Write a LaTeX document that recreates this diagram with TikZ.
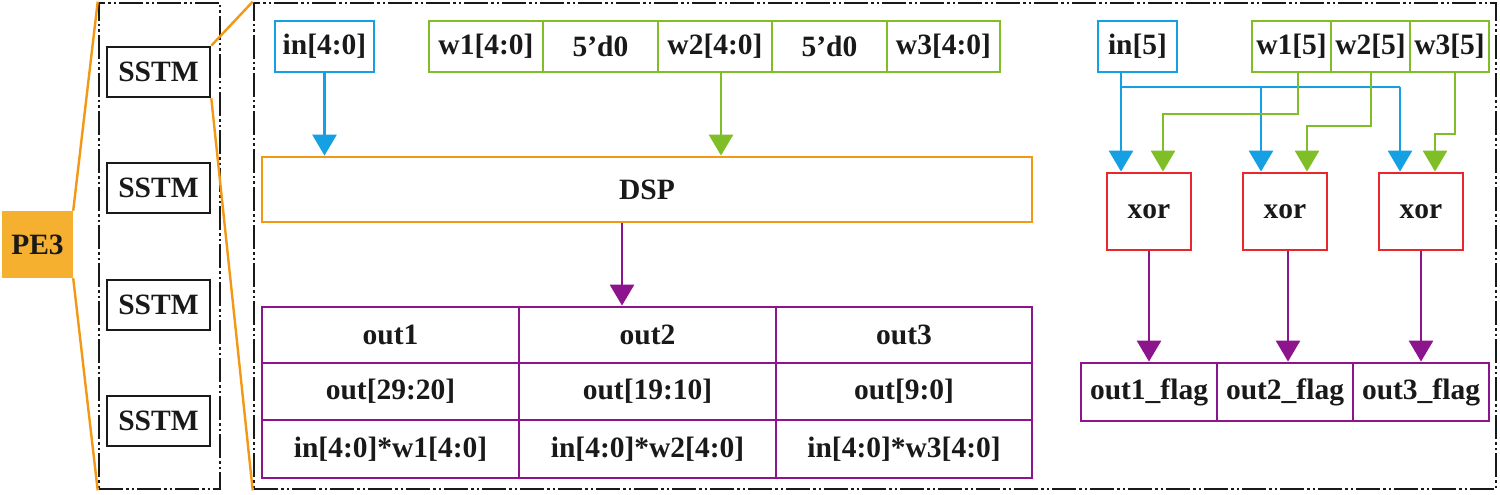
\documentclass[tikz,border=0pt]{standalone}
\usepackage{fontspec}
\setmainfont{Liberation Serif}
\usetikzlibrary{arrows.meta}
\definecolor{cblue}{RGB}{20,160,226}
\definecolor{cgreen}{RGB}{128,190,40}
\definecolor{corange}{RGB}{243,152,20}
\definecolor{cpe}{RGB}{245,176,47}
\definecolor{cred}{RGB}{232,38,43}
\definecolor{cpurple}{RGB}{140,20,140}
\tikzset{
  txt/.style={font=\fontsize{29.5}{32}\bfseries\selectfont, inner sep=0pt, text=black!90},
  cell/.style={txt, draw, line width=2.8pt, rectangle},
  ddbox/.style={draw=black!90, line width=2.6pt, dash pattern=on 24pt off 3pt on 2.5pt off 3pt on 2.5pt off 3pt, inner sep=0pt},
  arr/.style={line width=2.8pt, -{Triangle[width=24pt,length=21pt]}},
  wire/.style={line width=2.8pt},
  zoomline/.style={draw=corange, line width=2.4pt}
}
\begin{document}
\begin{tikzpicture}[x=1pt,y=-1pt]
\useasboundingbox (0,0) rectangle (1500,495);
% PE3 and left column
\node[txt, fill=cpe, minimum width=71pt, minimum height=67pt] (pe) at (37.5,244.5) {PE3};
\node[ddbox, minimum width=121pt, minimum height=486pt] (lbox) at (159.5,246) {};
\foreach \i/\y in {1/72,2/188,3/305,4/421}
  \node[cell, draw=black!90, line width=2.6pt, minimum width=103pt, minimum height=50pt] (s\i) at (158.5,\y) {SSTM};
% big box
\node[ddbox, minimum width=1242pt, minimum height=486pt] (bbox) at (875,246) {};
% zoom lines
\draw[zoomline] (pe.north east) -- (lbox.north west);
\draw[zoomline] (pe.south east) -- (lbox.south west);
\draw[zoomline] (s1.north east) -- (bbox.north west);
\draw[zoomline] (s1.south east) -- (bbox.south west);
% left part
\node[cell, draw=cblue, minimum width=99pt, minimum height=51pt] (in40) at (324.5,46.5) {in[4:0]};
\node[cell, draw=cgreen, minimum width=114pt, minimum height=51pt] (wa) at (486,46.5) {w1[4:0]};
\node[cell, draw=cgreen, minimum width=115pt, minimum height=51pt] (za) at (600.5,46.5) {5’d0};
\node[cell, draw=cgreen, minimum width=114pt, minimum height=51pt] (wb) at (715,46.5) {w2[4:0]};
\node[cell, draw=cgreen, minimum width=115pt, minimum height=51pt] (zb) at (829.5,46.5) {5’d0};
\node[cell, draw=cgreen, minimum width=113pt, minimum height=51pt] (wc) at (943.5,46.5) {w3[4:0]};
\node[cell, draw=corange, minimum width=770pt, minimum height=65pt] (dsp) at (647,189.5) {DSP};
\draw[arr, cblue] (in40.south) -- (in40.south |- dsp.north);
\draw[arr, cgreen] ([xshift=6pt]wb.south) -- ([xshift=6pt]wb.south |- dsp.north);
% table
\node[cell, draw=cpurple, minimum width=257pt, minimum height=56pt] (t1a) at (390.5,335) {out1};
\node[cell, draw=cpurple, minimum width=257pt, minimum height=56pt] (t2a) at (647.5,335) {out2};
\node[cell, draw=cpurple, minimum width=256pt, minimum height=56pt] (t3a) at (904,335) {out3};
\node[cell, draw=cpurple, minimum width=257pt, minimum height=57pt] (t1b) at (390.5,391.5) {out[29:20]};
\node[cell, draw=cpurple, minimum width=257pt, minimum height=57pt] (t2b) at (647.5,391.5) {out[19:10]};
\node[cell, draw=cpurple, minimum width=256pt, minimum height=57pt] (t3b) at (904,391.5) {out[9:0]};
\node[cell, draw=cpurple, minimum width=257pt, minimum height=58pt] (t1c) at (390.5,449) {in[4:0]*w1[4:0]};
\node[cell, draw=cpurple, minimum width=257pt, minimum height=58pt] (t2c) at (647.5,449) {in[4:0]*w2[4:0]};
\node[cell, draw=cpurple, minimum width=256pt, minimum height=58pt] (t3c) at (904,449) {in[4:0]*w3[4:0]};
\draw[arr, cpurple] ([xshift=-25pt]dsp.south) -- ([xshift=-25pt]dsp.south |- t2a.north);
% right part
\node[cell, draw=cblue, minimum width=79pt, minimum height=51pt] (in5) at (1137.5,46.5) {in[5]};
\node[cell, draw=cgreen, minimum width=79pt, minimum height=51pt] (w5a) at (1291.5,46.5) {w1[5]};
\node[cell, draw=cgreen, minimum width=79pt, minimum height=51pt] (w5b) at (1370.5,46.5) {w2[5]};
\node[cell, draw=cgreen, minimum width=79pt, minimum height=51pt] (w5c) at (1449.5,46.5) {w3[5]};
\foreach \i/\x in {1/1149,2/1285,3/1421}
  \node[cell, draw=cred, minimum width=84pt, minimum height=77pt] (x\i) at (\x,211.5) {xor};
\node[cell, draw=cpurple, minimum width=136pt, minimum height=58pt] (f1) at (1149,392) {out1\_flag};
\node[cell, draw=cpurple, minimum width=136pt, minimum height=58pt] (f2) at (1285,392) {out2\_flag};
\node[cell, draw=cpurple, minimum width=136pt, minimum height=58pt] (f3) at (1421,392) {out3\_flag};
% blue wires
\coordinate (b1) at (1121,87);
\coordinate (b2) at (1261,87);
\coordinate (b3) at (1400,87);
\draw[arr, cblue] (in5.south -| b1) -- (b1 |- x1.north);
\draw[wire, cblue] (b1) -- (b3);
\draw[arr, cblue] (b2) -- (b2 |- x2.north);
\draw[arr, cblue] (b3) -- (b3 |- x3.north);
% green wires
\coordinate (g1) at (1163,114);
\coordinate (g2) at (1307,126);
\coordinate (g3) at (1435,134);
\draw[arr, cgreen] ([xshift=6.5pt]w5a.south) |- (g1) -- (g1 |- x1.north);
\draw[arr, cgreen] ([xshift=0.5pt]w5b.south) |- (g2) -- (g2 |- x2.north);
\draw[arr, cgreen] ([xshift=5.5pt]w5c.south) |- (g3) -- (g3 |- x3.north);
% purple
\draw[arr, cpurple] (x1.south) -- (x1.south |- f1.north);
\draw[arr, cpurple] ([xshift=3pt]x2.south) -- ([xshift=3pt]x2.south |- f2.north);
\draw[arr, cpurple] (x3.south) -- (x3.south |- f3.north);
\end{tikzpicture}
\end{document}
